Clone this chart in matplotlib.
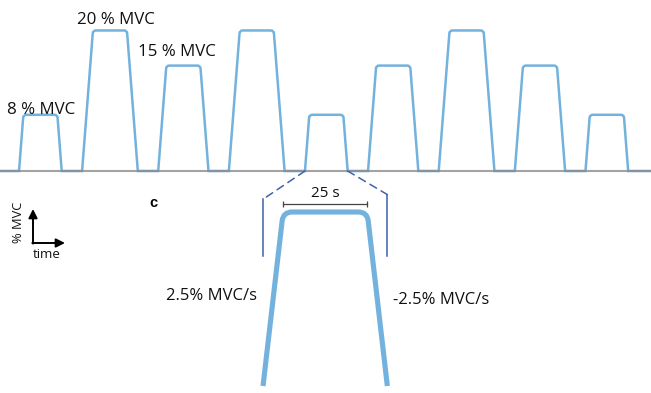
import matplotlib
matplotlib.use("Agg")
import numpy as np
import matplotlib.pyplot as plt
from matplotlib.patches import ConnectionPatch, PathPatch
from matplotlib.path import Path

plt.rcParams['font.family'] = ['Open Sans', 'DejaVu Sans']

# ====== PROTOCOL ======
LEVELS = [8, 20, 15, 20, 8, 15, 20, 15, 8]   # % MVC of each contraction
RAMP_RATE = 2.5      # % MVC/s, up and down
HOLD = 25            # s at the plateau
REST = 15            # s between contractions
LEAD_IN = 14         # s before the first contraction
T_END = 479          # s shown on the time axis
ZOOM_INDEX = 4       # contraction picked out below
ZOOM_LEVEL = 15      # % MVC of the enlarged example
LABELLED = {0: "8 % MVC", 1: "20 % MVC", 2: "15 % MVC"}

TRACE = "#74b2de"
BRACKET = "#3d62ad"
BASE = "#8c8c8c"


def trapezoid(t0, level):
    ramp = level / RAMP_RATE
    ts = [t0, t0 + ramp, t0 + ramp + HOLD, t0 + 2 * ramp + HOLD]
    ys = [0, level, level, 0]
    return ts, ys


def build_trace():
    ts, ys, spans = [0], [0], []
    t = LEAD_IN
    for lvl in LEVELS:
        tt, yy = trapezoid(t, lvl)
        ts += tt
        ys += yy
        spans.append((tt[0], tt[-1]))
        t = tt[-1] + REST
    ts.append(T_END)
    ys.append(0)
    return ts, ys, spans


def rounded_path(ax, xs, ys, radius):
    # soften the plateau corners by `radius` display pixels, keep the feet sharp
    pts = ax.transData.transform(np.column_stack([xs, ys]))
    verts, codes = [pts[0]], [Path.MOVETO]
    for i in range(1, len(pts) - 1):
        p = pts[i]
        a, b = pts[i - 1] - p, pts[i + 1] - p
        la, lb = np.hypot(*a), np.hypot(*b)
        if la == 0 or lb == 0:
            continue
        if ys[i] == 0:
            verts.append(p)
            codes.append(Path.LINETO)
            continue
        r = min(radius, la / 2, lb / 2)
        verts += [p + a / la * r, p, p + b / lb * r]
        codes += [Path.LINETO, Path.CURVE3, Path.CURVE3]
    verts.append(pts[-1])
    codes.append(Path.LINETO)
    return Path(ax.transData.inverted().transform(np.array(verts)), codes)


times, values, spans = build_trace()

fig = plt.figure(figsize=(6.51, 3.93), dpi=100)

# ====== TOP: FULL SEQUENCE ======
ax1 = fig.add_axes([0, 0.547, 1, 0.447])
ax1.set_xlim(0, T_END)
ax1.set_ylim(-1, 24)
ax1.axis("off")
ax1.add_patch(PathPatch(rounded_path(ax1, times, values, 3), fill=False,
                        edgecolor=TRACE, lw=1.8, zorder=2))
ax1.axhline(0, color=BASE, lw=1.5, alpha=0.8, zorder=3)

# ====== BOTTOM: ONE CONTRACTION ENLARGED ======
ax2 = fig.add_axes([0.3782, 0.0089, 0.2426, 0.5107])
ax2.set_xlim(-5, 42)
ax2.set_ylim(-0.3, 17)
ax2.axis("off")
zt, zy = trapezoid(0, ZOOM_LEVEL)
ax2.add_patch(PathPatch(rounded_path(ax2, zt, zy, 9), fill=False,
                        edgecolor=TRACE, lw=3.7, capstyle="butt",
                        clip_on=False))

# brackets at the feet of the enlarged contraction
t_lo, t_hi = zt[0], zt[-1]
ax2.plot([t_lo, t_lo], [11.2, 16.1], color=BRACKET, lw=1.1)
ax2.plot([t_hi, t_hi], [11.2, 16.5], color=BRACKET, lw=1.1)

# dashed lines back to the contraction in the sequence
s0, s1 = spans[ZOOM_INDEX]
for xa, xb, yb in [(s0, t_lo, 16.1), (s1, t_hi, 16.5)]:
    con = ConnectionPatch(xyA=(xa, 0), coordsA=ax1.transData,
                          xyB=(xb, yb), coordsB=ax2.transData,
                          color=BRACKET, lw=1.1, linestyle=(0, (5, 3.5)))
    fig.add_artist(con)

# 25 s scale bar over the plateau
bar = [zt[1], zt[1] + HOLD]
ax2.plot(bar, [15.7, 15.7], color="#444444", lw=0.9, clip_on=False)
ax2.plot(bar, [15.7, 15.7], color="#444444", ls="none", marker="|",
         ms=5, mew=0.9, clip_on=False)

# ====== LABELS ======
ov = fig.add_axes([0, 0, 1, 1], zorder=5)
ov.set_xlim(0, 651)
ov.set_ylim(393, 0)
ov.axis("off")
ov.patch.set_visible(False)

label_pos = {0: (7, 114), 1: (77, 24), 2: (138, 56)}
for i, txt in LABELLED.items():
    x, y = label_pos[i]
    ov.text(x, y, txt, fontsize=12.2, ha="left", va="baseline", color="#111111")

ov.text(325.5, 197, f"{HOLD} s", fontsize=11, ha="center", va="baseline",
        color="#111111")
ov.text(257, 300, f"{RAMP_RATE}% MVC/s", fontsize=12, ha="right",
        va="baseline", color="#111111")
ov.text(393, 304, f"-{RAMP_RATE}% MVC/s", fontsize=12, ha="left",
        va="baseline", color="#111111")
ov.text(153.5, 207, "c", fontsize=10.5, fontweight="bold", ha="center",
        va="baseline", color="black", family=["Liberation Sans", "DejaVu Sans"])

# axis key
ov.annotate("", xy=(33, 209), xytext=(33, 243.6),
            arrowprops=dict(arrowstyle="-|>", color="black", lw=1.4,
                            mutation_scale=13, shrinkA=0, shrinkB=0))
ov.annotate("", xy=(65, 243), xytext=(32.3, 243),
            arrowprops=dict(arrowstyle="-|>", color="black", lw=1.4,
                            mutation_scale=13, shrinkA=0, shrinkB=0))
ov.text(18, 222, "% MVC", fontsize=9.3, rotation=90, ha="center", va="center",
        color="#111111")
ov.text(33, 258, "time", fontsize=9.5, ha="left", va="baseline",
        color="#111111")

fig.savefig("out.png", dpi=100)
